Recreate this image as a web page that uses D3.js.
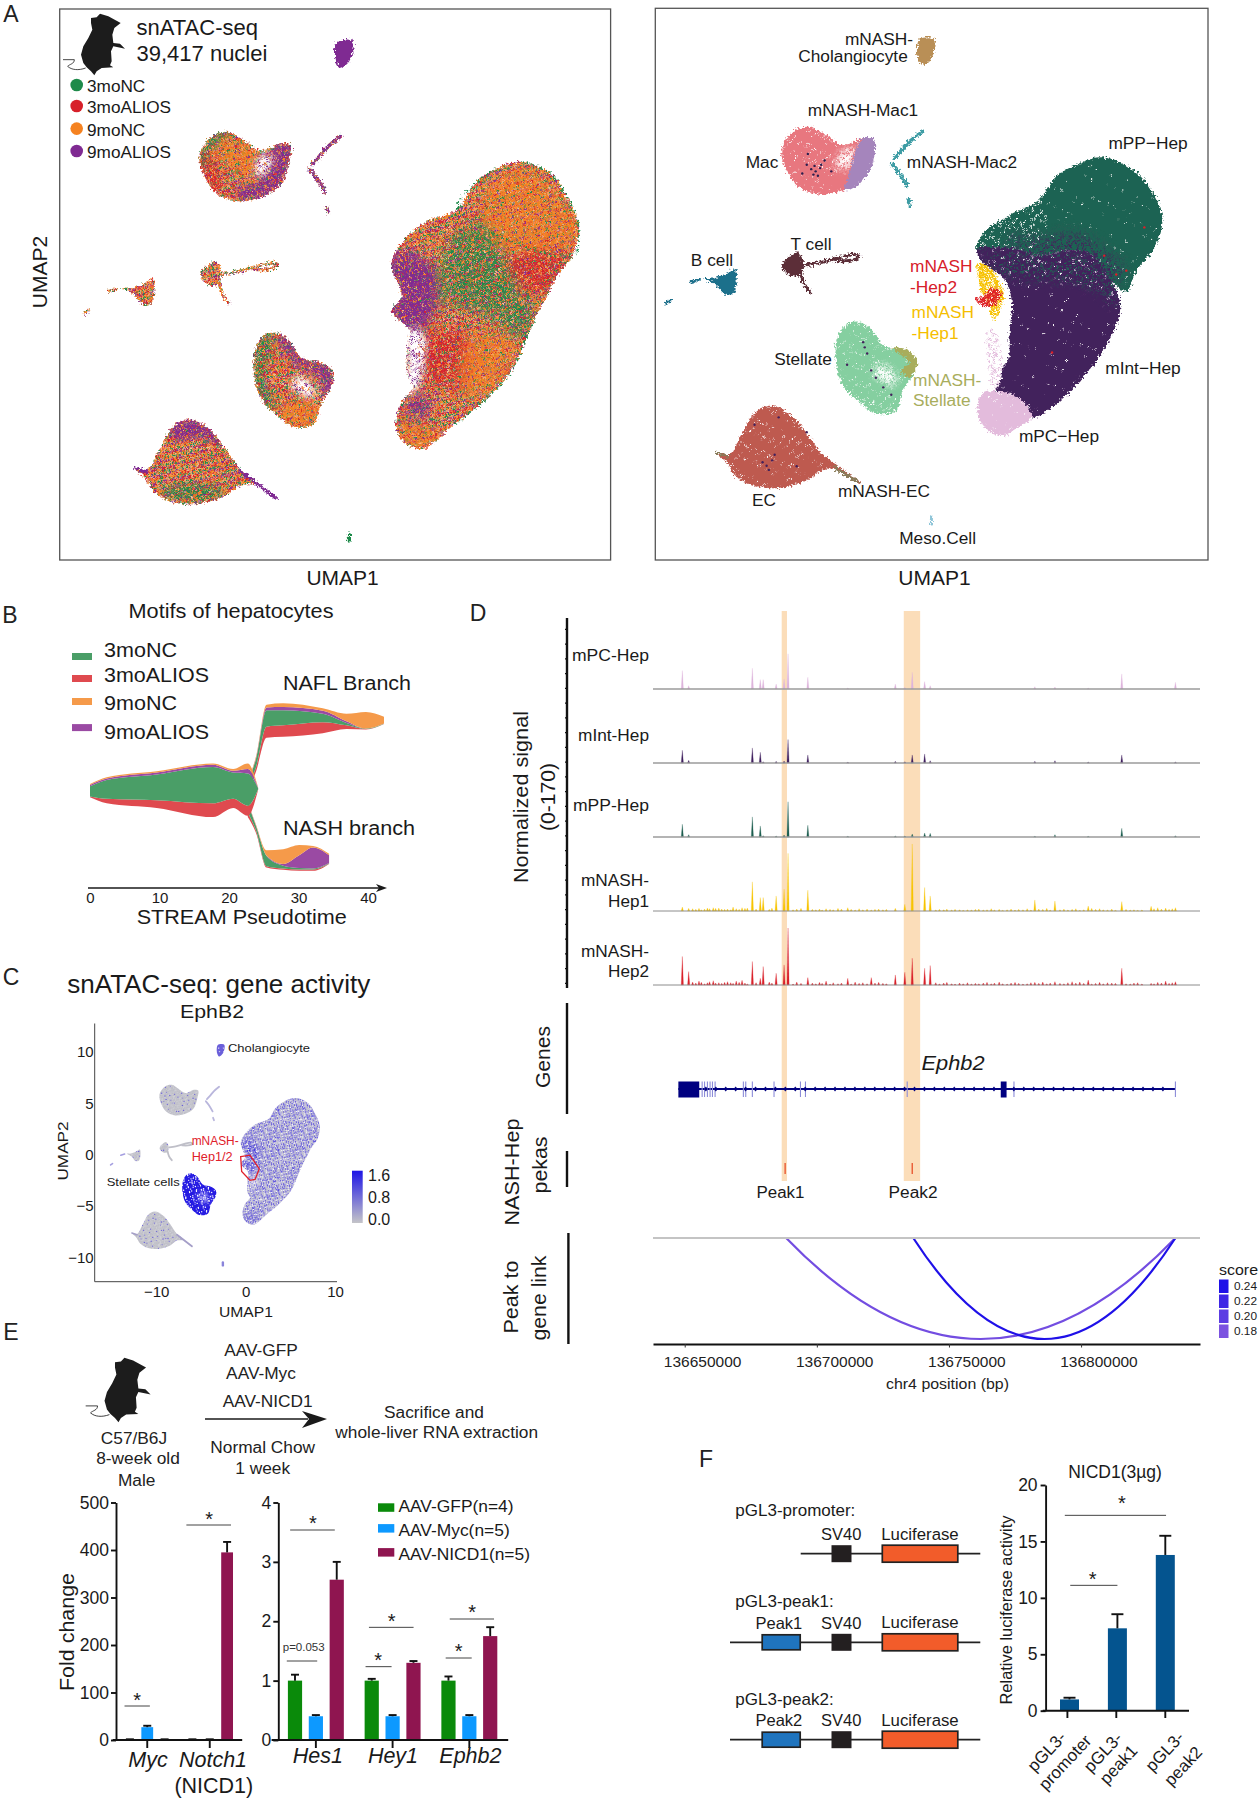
<!DOCTYPE html>
<html><head><meta charset="utf-8">
<style>html,body{margin:0;background:#fff}svg{display:block;font-family:"Liberation Sans",Arial,sans-serif}</style>
<script src="https://cdn.jsdelivr.net/npm/d3@7/dist/d3.min.js"></script></head><body>
<svg id="fig" width="1259" height="1800" viewBox="0 0 1259 1800"></svg>
<script>
/* ---------- UMAP cluster outlines, in UMAP units ---------- */
const hepOutline=[[5.84,5.3],[7.1,4.8],[7.82,3.79],[8.36,2.45],[8.09,1.11],[7.46,.27],[6.92,-.74],[6.38,-1.75],[6.02,-2.58],[5.3,-4.09],[4.22,-5.27],[2.77,-6.44],[1.33,-7.53],[.43,-7.11],[.16,-6.44],[.43,-5.44],[.97,-4.77],[.7,-4.26],[.7,-2.92],[.79,-2.25],[-.02,-1.33],[.43,-.74],[-.02,.77],[.52,1.78],[1.51,2.62],[2.95,3.2],[3.68,4.3],[4.76,5.05]];
const cholOutline=[[-2.45,10.67],[-1.77,10.7],[-1.73,10.34],[-1.95,9.75],[-2.31,9.5],[-2.52,9.83]];
const macOutline=[[-8.58,5.81],[-8.04,6.48],[-7.32,6.64],[-6.59,6.22],[-5.87,5.81],[-4.97,6.14],[-4.52,6.06],[-4.61,5.3],[-4.97,4.3],[-5.69,3.79],[-6.95,3.54],[-7.86,3.88],[-8.4,4.63],[-8.63,5.3]];
const tOutline=[[-8.58,.35],[-7.95,.86],[-7.68,.52],[-7.77,-.15],[-8.13,-.23],[-8.58,.1]];
const bOutline=[[-12.09,-.32],[-11.64,-.32],[-11.01,-.07],[-10.7,.1],[-10.77,-.99],[-11.19,-1.07],[-11.55,-.65]];
const stellateOutline=[[-5.69,-2.42],[-5.15,-2.33],[-4.61,-2.67],[-4.07,-3.42],[-3.17,-3.67],[-2.63,-4.09],[-2.72,-4.77],[-3.17,-5.44],[-3.53,-6.44],[-4.43,-6.53],[-5.15,-6.02],[-5.87,-5.27],[-6.18,-4.26],[-6.14,-3.09]];
const ecOutline=[[-9.12,-6.19],[-8.22,-6.61],[-7.5,-7.45],[-6.77,-8.46],[-6.05,-9.04],[-6.77,-9.13],[-7.5,-9.63],[-8.76,-9.97],[-9.84,-9.88],[-10.65,-9.46],[-11.1,-8.79],[-11.55,-8.37],[-11.01,-8.46],[-10.38,-7.45],[-9.84,-6.53]];
const mac2Strands=[[[-2.31,6.44],[-2.85,6],[-3.3,5.5],[-3.6,5.2]],[[-3.71,4.97],[-3.4,4.6],[-3,3.95]],[[-2.95,3.3],[-2.85,3.05]]];
const tStrands=[[[-7.6,.3],[-6.9,.4],[-6,.65],[-5.3,.78],[-5.15,.65],[-5.6,.5],[-6.2,.5]],[[-7.77,-.07],[-7.62,-.57],[-7.32,-.99]]];
const bStrands=[[[-12.72,-.49],[-12.32,-.37]],[[-13.8,-1.47],[-13.6,-1.33]]];
const ecTail=[[-6.77,-8.54],[-5.19,-9.71]];
const ecLeftTail=[[-11.55,-8.36],[-11,-8.53]];
const mesoStrand=[[-1.91,-11.34],[-1.91,-11.64]];
/* sample-enriched regions, left UMAP */
const hepPurpleDense=[[-.02,.77],[.43,1.28],[1.51,.77],[2.05,-.24],[1.69,-1.58],[.97,-2.25],[-.02,-1.33],[.43,-.74]];
const hepPurpleSparse=[[.61,-2.25],[1.33,-2.25],[1.42,-3.59],[1.06,-4.93],[.61,-4.93],[.7,-3.59]];
const hepGap=[[1.2,-2.6],[1.45,-2.6],[1.38,-3.6],[1.2,-4.2],[1.12,-3.5]];
const hepOrangeTop=[[4.04,3.79],[5.84,4.97],[8,3.12],[8.18,1.78],[6.38,1.11],[4.4,1.61]];
const hepRedRight=[[4.94,.77],[7.64,1.28],[7.46,.27],[6.92,-.57],[5.66,-.24]];
const hepGreen=[[2.59,1.78],[4.04,2.45],[5.84,-.74],[6.38,-1.41],[5.66,-2.58],[4.04,-1.41],[2.23,-.91]];
const hepRedLow=[[1.69,-2.25],[3.14,-2.25],[3.68,-3.59],[2.95,-4.93],[1.51,-4.26]];
const hepOrangeLow=[[3.5,-2.58],[5.48,-2.58],[5.12,-4.09],[3.68,-5.27],[3.14,-5.1]];
const hepOrangeTip=[[.16,-6.44],[1.15,-6.44],[2.23,-6.95],[1.33,-7.53],[.43,-7.11]];
const hepPurpleLow=[[.79,-5.27],[1.51,-4.93],[1.51,-6.11],[.61,-5.94]];
const stellPurple=[[-5.15,-2.33],[-4.61,-2.67],[-4.07,-3.42],[-3.17,-3.67],[-2.63,-4.09],[-2.72,-4.77],[-2.99,-5.27],[-3.35,-4.26],[-4.25,-3.84],[-4.88,-3.09]];
const stellGreen=[[-6.14,-3.09],[-5.69,-2.42],[-5.33,-2.58],[-5.78,-4.26],[-5.15,-5.77],[-5.51,-5.69],[-6.18,-4.26]];
const stellOrange=[[-4.97,-5.77],[-4.43,-6.53],[-3.53,-6.44],[-3.35,-5.77],[-4.25,-5.27]];
const stellHole=[[-4.3,-4.3],[-3.89,-4.35],[-3.45,-4.93],[-3.71,-5.3],[-4.16,-5.0],[-4.5,-4.8]];
const ecPurple=[[-9.84,-6.53],[-9.12,-6.19],[-8.22,-6.61],[-7.59,-7.28],[-8.58,-6.94],[-9.66,-7.02]];
const ecGreen=[[-10.38,-9.46],[-8.76,-9.88],[-7.5,-9.46],[-8.22,-9.13],[-9.66,-9.13]];
const macOrange=[[-7.86,6.31],[-6.77,6.22],[-5.96,5.39],[-6.41,4.63],[-7.32,5.13],[-7.86,5.47]];
const macRed=[[-8.58,5.47],[-8.04,5.47],[-7.5,4.13],[-6.95,3.62],[-7.86,3.96],[-8.4,4.63]];
const macPurple=[[-6.05,5.3],[-5.69,5.64],[-4.97,6.17],[-4.52,5.97],[-4.61,5.13],[-4.97,4.21],[-5.69,3.76],[-6.77,3.62],[-6.95,4.13],[-6.41,4.3],[-5.87,4.63]];
const macGap=[[-5.87,5.6],[-5.35,5.6],[-5.69,4.75],[-6.2,4.75]];
const macGreen=[[-8.63,5.3],[-8.04,6.48],[-7.32,6.64],[-7.5,6.31],[-8.22,5.81],[-8.4,5.13]];
/* cell-type regions, right UMAP */
const mPP=[[5.75,5.25],[7.1,4.7],[8,3.66],[8.45,2.45],[8.09,1.07],[7.28,.03],[6.83,-.92],[6.2,-.49],[5.3,.72],[4.4,.98],[2.95,.72],[1.69,1.07],[.61,.98],[.11,.98],[.43,1.76],[1.69,2.62],[2.95,3.31],[3.68,4.35],[4.94,5.05]];
const mPPsparse=[[.43,1.76],[1.69,2.62],[2.95,3.31],[3.2,1.5],[1.69,.9],[.3,.9]];
const mInt=[[.11,.98],[1.69,1.07],[2.95,.72],[4.4,.98],[5.3,.72],[6.2,-.49],[6.56,-1.7],[6.02,-3.26],[4.94,-4.82],[3.68,-6.11],[2.59,-6.72],[2.05,-5.85],[.97,-5.51],[.79,-4.99],[1.51,-4.12],[1.6,-2.74],[1.69,-1.36],[1.33,-.32],[.43,.37]];
const intInPP=[[1.5,1.6],[3,1.5],[4.6,1.7],[5.8,1],[6.7,.1],[6.2,-.6],[4.4,.6],[2.5,.6]];
const ppInInt=[[.4,.9],[2,.9],[4.4,.9],[5.6,.5],[6.5,-.6],[6.4,-1.6],[5,-.6],[3,-.4],[1.5,-.2]];
const mPC=[[.97,-5.51],[2.05,-5.85],[2.59,-6.72],[1.87,-7.24],[1.33,-7.58],[.52,-7.24],[.16,-6.54],[.34,-5.68]];
const mPCcolumn=[[.61,-2.74],[.97,-2.74],[1.24,-4.82],[.88,-5.51],[.7,-4.82]];
const nashHep1=[[.16,.37],[.7,.2],[1.33,-1],[1.15,-1.88],[.88,-2.22],[.61,-1.52],[.25,-.66]];
const nashHep2=[[.04,-1.27],[.43,-1.1],[.79,-.75],[1.24,-1],[.97,-1.52],[.43,-1.62]];
const nashMac1=[[-5.06,6.08],[-4.52,6.12],[-4.52,5.05],[-5.15,4.01],[-5.78,3.75],[-5.51,4.7]];
const nashStellate=[[-3.71,-3.52],[-2.99,-3.61],[-2.54,-4.21],[-2.9,-4.9],[-3.26,-4.56],[-2.9,-4.21],[-3.26,-3.86]];
const nashEC=[[-6.23,-9.05],[-5.24,-9.66]];
const macDots=[[-7.5,4.9],[-7.3,4.7],[-7.1,4.6],[-6.9,4.75],[-7.2,4.45],[-7,4.4],[-7.45,5.4],[-6.7,5.1],[-6.4,4.6],[-7.7,4.5],[-6.85,4.9],[-7.15,4.85]];
const stellDots=[[-4.97,-3.26],[-4.79,-3.78],[-4.61,-4.56],[-4.07,-5.34],[-3.71,-5.68],[-5.69,-4.3],[-4.9,-3.5],[-4.4,-4.9]];
const ecDots=[[-9.2,-9.14],[-9.48,-8.79],[-9.84,-7.06],[-8.76,-6.72],[-7.5,-7.41],[-8.94,-8.44],[-7.95,-8.97],[-9.3,-8.95],[-9.05,-8.7]];
const hepRedDots=[[5.84,.72],[6.38,-.15],[6.83,.03],[7.64,2.02],[3.5,-3.74]];
const nashHepOutlineC=[[-.55,-.19],[.49,-.05],[1.53,-1.39],[1.05,-2.42],[.49,-2.5],[-.44,-1.65]];
/* sample and cell-type legends */
const sampleNames=["3moNC","3moALIOS","9moNC","9moALIOS"];
const sampleColors=["#1E8A4A","#D7202A","#F58220","#7F2A92"];
/* Panel B: STREAM stream plot */
const streamColors=["#4A9E67","#DF4A4F","#F59A4A","#9A4AA3"];
const stemT=[0,2.4,9.6,17.7,20.6,22.7,24.2],stemBase=[208,195,185,165,185,168,225];
const stemRed=[2,10,17,30,20,22,1],stemGreen=[22,41,56,79,57,70,2],stemPurple=[3,3,4,5,4,10,.5],stemOrange=[2,3,3,3,4,12,.5];
const upT=[22.7,23.9,25.4,27.8,33.5,36.9,39.7,42.3],upBase=[220,265,338,340,348,357,356,368];
const upRed=[8,10,24,25,24,8,1,.5],upGreen=[12,18,36,33,18,5,1,.5],upPurple=[2,2,6,7,7,4,0,0],upOrange=[3,3,6,8,5,16,36,15];
const downT=[22.7,23.9,25.4,27.8,30.1,32.1,34.4],downBase=[165,130,55,50,48,48,63];
const downRed=[10,5,3,3,3,3,1],downGreen=[20,10,22,6,3,2,1],downPurple=[2,1,1,4,28,46,17],downOrange=[2,2,12,32,22,3,3];
/* Panel D: genome tracks (kb on chr4) */
const trackNames=[["mPC-Hep"],["mInt-Hep"],["mPP-Hep"],["mNASH-","Hep1"],["mNASH-","Hep2"]];
const trackColors=["#DDB4DC","#3F1F5F","#1D5E4F","#F7C400","#D9202A"];
const peakKb=[136649.1,136651.5,136675.6,136678.6,136679.7,136684.6,136687.6,136689.1,136696.6,136711.7,136729.7,136733.3,136736.1,136740.8,136742.9,136782.5,136790.1,136802.7,136815.4,136835.7];
const mPCpeaks=[55,10,62,28,28,15,30,105,35,3,15,5,50,22,10,7,6,3,45,20];
const mIntPeaks=[38,8,45,32,4,5,6,70,24,2,5,4,24,27,7,5,7,3,24,3];
const mPPpeaks=[38,7,60,33,4,3,6,105,35,2,3,3,9,12,11,2,7,2,26,4];
const hep1Peaks=[12,8,87,40,40,45,65,172,62,10,8,20,200,70,45,33,30,15,28,10];
const hep2Peaks=[85,40,70,20,55,35,60,170,22,20,30,38,80,50,58,8,10,15,50,10];
const noiseKb=[136653,136654.2,136655.4,136656.3,136657.5,136658.6,136659.4,136660.8,136661.7,136662.9,136664,136665.1,136666.2,136667.4,136668.3,136669.5,136670.6,136671.7,136672.8,136673.7,136677,136682,136683,136691,136692.4,136694,136698.3,136699.6,136701,136702,136703.5,136705,136706.2,136708,136709.3,136713,136714.5,136716,136717.4,136719,136720.6,136722,136723.4,136725,136726.3,136745,136746.4,136748,136749.2,136751,136752.3,136754,136755.4,136757,136758.5,136760,136761.3,136763,136764.4,136766,136767.2,136769,136770.3,136772,136773.5,136775,136776.4,136778,136779.6,136781,136784,136785.5,136787,136788.3,136792,136793.5,136795,136796.6,136798,136799.5,136801,136804,136805.5,136807,136808.4,136810,136811.6,136813,136817,136818.6,136820,136821.4,136823,136826.5,136827.6,136829,136830.4,136832,136833.3,136834.5];
const hep1Noise=[7,5,8,4,6,9,7,10,8,9,6,5,6,4,12,7,5,10,8,9,6,5,9,4,6,8,5,4,6,3,7,5,4,8,6,5,3,7,4,6,3,5,6,4,5,3,5,4,6,3,5,4,2,4,3,5,6,3,4,7,3,5,2,4,6,3,5,4,7,3,6,5,8,3,4,6,3,5,7,2,4,8,5,7,4,3,6,2,5,3,4,2,3,14,7,10,6,9,5,7];
const hep2Noise=[9,6,12,8,4,7,10,13,6,7,5,8,10,7,5,12,8,14,6,3,7,9,6,3,9,5,6,4,8,5,12,3,7,4,6,3,9,5,7,4,22,6,8,5,4,7,3,6,8,4,3,6,4,7,3,5,4,6,8,4,6,9,4,3,6,8,5,3,4,7,5,9,4,6,5,4,7,10,6,9,5,3,5,8,4,7,6,5,4,3,6,7,3,5,4,8,6,12,5,7];
const band1=[136686.7,136688.7],band2=[136732.9,136739.1];
const geneSpan=[136647.6,136835.7],bigExons=[[136647.6,136655.5],[136769.6,136771.8]];
const thinExons=[136656.6,136657.5,136658.6,136659.6,136660.5,136661.5,136672.2,136673.1,136675.6,136683.8,136693.8,136695.7,136734.2,136774.6,136835.7];
const nashPeakMarks=[136688.0,136736.1];
const links=[{from:136688.4,to:136835.7,score:.185},{from:136736.5,to:136835.7,score:.24}];
const scoreTicks=[.24,.22,.20,.18];
const genomeTicks=[136650000,136700000,136750000,136800000];
/* Panel E */
const treatNames=["AAV-GFP(n=4)","AAV-Myc(n=5)","AAV-NICD1(n=5)"];
const treatColors=["#0A8A0A","#0D99FF","#8F1550"];
const genesLeft=["Myc","Notch1"];
const leftVals=[[1,27,1],[1,1,395]],leftErr=[[.5,3,.5],[.5,.5,22]];
const genesRight=["Hes1","Hey1","Ephb2"];
const rightVals=[[1,.4,2.7],[1,.4,1.3],[1,.4,1.75]],rightErr=[[.1,.02,.3],[.03,.02,.03],[.07,.02,.15]];
/* Panel F */
const constructs=["pGL3-promoter","pGL3-peak1","pGL3-peak2"];
const lucVals=[1,7.3,13.8],lucErr=[.15,1.25,1.7];

const svg=d3.select("#fig"),defs=svg.append("defs");
const F='"Liberation Sans",Arial,sans-serif';
function T(p,x,y,s,o={}){
  const t=p.append("text").attr("x",x).attr("y",y).attr("dominant-baseline","central")
    .attr("text-anchor",o.a||"middle").attr("font-size",o.s||16).attr("fill",o.c||"#1a1a1a").text(s);
  if(o.i)t.attr("font-style","italic");
  if(o.r!=null)t.attr("transform",`rotate(${o.r} ${x} ${y})`);
  if(o.l)t.attr("textLength",o.l).attr("lengthAdjust","spacingAndGlyphs");
  return t;
}
/* rough-edged look for the point clouds */
const rough=defs.append("filter").attr("id","rough").attr("filterUnits","userSpaceOnUse").attr("x",0).attr("y",0).attr("width",1259).attr("height",1800);
rough.append("feTurbulence").attr("type","fractalNoise").attr("baseFrequency",.45).attr("numOctaves",2).attr("seed",4).attr("result","n");
rough.append("feDisplacementMap").attr("in","SourceGraphic").attr("in2","n").attr("scale",7).attr("xChannelSelector","R").attr("yChannelSelector","G");
const feather=defs.append("filter").attr("id","feather").attr("filterUnits","userSpaceOnUse").attr("x",0).attr("y",0).attr("width",1259).attr("height",1800);
feather.append("feGaussianBlur").attr("stdDeviation",6);
const featherS=defs.append("filter").attr("id","featherS").attr("filterUnits","userSpaceOnUse").attr("x",0).attr("y",0).attr("width",1259).attr("height",1800);
featherS.append("feGaussianBlur").attr("stdDeviation",3);
/* point-cloud textures: a tiled stipple, not per-cell data */
const fr=v=>v-Math.floor(v);
function speckle(id,cols,o={}){
  const tile=o.tile||64,n=o.n||1800,r=o.r||.95,jit=1.6*tile/Math.sqrt(n);
  const p=defs.append("pattern").attr("id",id).attr("patternUnits","userSpaceOnUse").attr("width",tile).attr("height",tile);
  if(o.bg)p.append("rect").attr("width",tile).attr("height",tile).attr("fill",o.bg);
  const total=d3.sum(cols,c=>c[1]);
  for(let i=1;i<=n;i++){
    const x=fr(i*.7548776662)*tile+(fr(i*.3819660)-.5)*jit,y=fr(i*.5698402910)*tile+(fr(i*.2360680)-.5)*jit,k=fr(i*.8191725)*total;
    let acc=0,c=cols[0][0];
    for(const q of cols){acc+=q[1];if(k<=acc){c=q[0];break;}}
    p.append("circle").attr("cx",x.toFixed(1)).attr("cy",y.toFixed(1)).attr("r",r).attr("fill",c);
  }
  return `url(#${id})`;
}
const [cG,cR,cO,cP]=sampleColors;
const pMix=speckle("mix",[[cO,.4],[cR,.25],[cG,.19],[cP,.16]],{n:1700,bg:"#f4c19c"});
const pO=speckle("ovO",[[cO,1]],{n:560,tile:50});
const pR=speckle("ovR",[[cR,1]],{n:480,tile:50});
const pG=speckle("ovG",[[cG,1]],{n:480,tile:50});
const pP=speckle("ovP",[[cP,1]],{n:680,tile:50});
const pPs=speckle("ovPs",[[cP,1]],{n:240,tile:50,bg:"#fff"});
const pGap=speckle("gap",[[cP,.55],[cO,.3],[cR,.15]],{n:300,tile:50,bg:"#fff"});
const pWhite=speckle("ovW",[["#fff",1]],{n:150,tile:60,r:.85});
function solid(id,c,n){return speckle(id,[["#fff",1]],{bg:c,n:n||30,tile:60,r:.65});}

const line=d3.line().curve(d3.curveCatmullRomClosed.alpha(.5));
const open=d3.line().curve(d3.curveCatmullRom);
const pathOf=(pts,x,y)=>line.x(d=>x(d[0])).y(d=>y(d[1]))(pts);
function blob(g,pts,x,y,fill){g.append("path").attr("d",pathOf(pts,x,y)).attr("fill",fill);}
let maskN=0;
/* soft-edged enrichment region, kept inside its parent cluster */
function overlay(g,parent,pts,x,y,fill,small){
  const id="m"+(++maskN);
  const m=defs.append("mask").attr("id",id).attr("maskUnits","userSpaceOnUse").attr("x",0).attr("y",0).attr("width",1259).attr("height",1800);
  m.append("path").attr("d",pathOf(pts,x,y)).attr("fill","#fff").attr("filter",small?"url(#featherS)":"url(#feather)");
  const c=defs.append("clipPath").attr("id","c"+id);
  c.append("path").attr("d",pathOf(parent,x,y));
  g.append("g").attr("clip-path",`url(#c${id})`).append("g").attr("mask",`url(#${id})`)
   .append("path").attr("d",pathOf(parent,x,y)).attr("fill",fill);
}
function strand(g,pts,x,y,stroke,w){g.append("path").attr("d",open.x(d=>x(d[0])).y(d=>y(d[1]))(pts)).attr("fill","none").attr("stroke",stroke).attr("stroke-width",w).attr("stroke-linecap","round");}
function frame(x0,y0,x1,y1){svg.append("rect").attr("x",x0).attr("y",y0).attr("width",x1-x0).attr("height",y1-y0).attr("fill","none").attr("stroke","#555").attr("stroke-width",1.3);}
function unitScale(at0,perUnit){return d3.scaleLinear().domain([0,1]).range([at0,at0+perUnit]);}

/* ---------- panel labels ---------- */
[["A",11,14],["B",10,615],["C",11,977],["D",478,613],["E",11,1332],["F",706,1459]].forEach(d=>T(svg,d[1],d[2],d[0],{s:23,c:"#222"}));

/* ---------- mouse glyph ---------- */
function mouse(x,y,k){
  const g=svg.append("g").attr("transform",`translate(${x},${y}) scale(${k})`);
  g.append("path").attr("fill","#1c1c1c").attr("d","M108,30 L125,28 L135,17 L160,25 L197,45 L178,60 L172,80 L175,105 L195,107 L210,122 L200,120 L175,115 L168,130 L170,160 L165,172 L175,178 L140,180 L125,190 L118,202 L108,190 L95,178 L85,165 L78,140 L85,115 L100,90 L112,65 L108,45 Z");
  g.append("path").attr("fill","none").attr("stroke","#1c1c1c").attr("stroke-width",2.4).attr("d","M92,180 C70,188 50,186 38,175 C44,168 58,168 58,155 L24,155");
}
mouse(55,8,1/3);
mouse(77.3,1351.8,.349);

/* ---------- A left ---------- */
frame(59.7,9,610.6,560);
const aLx=unitScale(392,22.3),aLy=unitScale(280.6,-22.4);
const gAL=svg.append("g").attr("filter","url(#rough)");
[hepOutline,macOutline,tOutline,bOutline,stellateOutline,ecOutline].forEach(o=>blob(gAL,o,aLx,aLy,pMix));
blob(gAL,cholOutline,aLx,aLy,cP);
[[hepPurpleDense,pP],[hepPurpleDense,pP],[hepOrangeTop,pO],[hepRedRight,pR],[hepGreen,pG],[hepRedLow,pR],[hepOrangeLow,pO],[hepOrangeTip,pO],[hepPurpleLow,pP]]
  .forEach(d=>overlay(gAL,hepOutline,d[0],aLx,aLy,d[1]));
overlay(gAL,hepOutline,hepPurpleSparse,aLx,aLy,pPs,1);
overlay(gAL,hepOutline,hepGap,aLx,aLy,pGap,1);
[[stellPurple,pP],[stellGreen,pG],[stellOrange,pO],[stellHole,pGap]].forEach(d=>overlay(gAL,stellateOutline,d[0],aLx,aLy,d[1],1));
[[ecPurple,pP],[ecPurple,pP],[ecGreen,pG]].forEach(d=>overlay(gAL,ecOutline,d[0],aLx,aLy,d[1],1));
[[macOrange,pO],[macRed,pR],[macPurple,pP],[macGap,pGap],[macGreen,pG]].forEach(d=>overlay(gAL,macOutline,d[0],aLx,aLy,d[1],1));
gAL.append("path").attr("d",open.x(d=>aLx(d[0])).y(d=>aLy(d[1]))(hepOutline.slice(0,5).concat(hepOutline.slice(25))))
  .attr("fill","none").attr("stroke",cG).attr("stroke-width",2).attr("stroke-dasharray","2 3");
gAL.append("path").attr("d",open.x(d=>aLx(d[0])).y(d=>aLy(d[1]))(hepOutline.slice(7,12)))
  .attr("fill","none").attr("stroke",cG).attr("stroke-width",2).attr("stroke-dasharray","2 4");
mac2Strands.forEach(s=>strand(gAL,s,aLx,aLy,pMix,3.6));
mac2Strands.forEach(s=>strand(gAL,s,aLx,aLy,pP,3.6));
tStrands.forEach(s=>strand(gAL,s,aLx,aLy,pMix,3));
bStrands.forEach(s=>strand(gAL,s,aLx,aLy,pMix,3));
strand(gAL,ecTail,aLx,aLy,cP,3.2);strand(gAL,ecLeftTail,aLx,aLy,cP,2.8);
strand(gAL,mesoStrand,aLx,aLy,cG,3.2);
T(svg,136.5,27,"snATAC-seq",{a:"start",s:22});
T(svg,136.5,53,"39,417 nuclei",{a:"start",s:22});
sampleNames.forEach((n,i)=>{const y=[85,106,128.6,151][i];
  svg.append("circle").attr("cx",76.7).attr("cy",y).attr("r",6.3).attr("fill",sampleColors[i]);
  T(svg,87,y+1,n,{a:"start",s:17.2});});
T(svg,39,272,"UMAP2",{r:-90,s:21});
T(svg,342.6,577,"UMAP1",{s:21});

/* ---------- A right ---------- */
frame(655.3,8.3,1208,560);
const aRx=unitScale(974,22.3),aRy=unitScale(271.3,-21.73);
const gAR=svg.append("g").attr("filter","url(#rough)");
const pPPs=solid("cPP","#1F6352",30),pInts=solid("cInt","#43215C",26);
blob(gAR,mPP,aRx,aRy,pPPs);
blob(gAR,mPPsparse,aRx,aRy,pWhite);
blob(gAR,mInt,aRx,aRy,pInts);
overlay(gAR,mPP,intInPP,aRx,aRy,speckle("ovInt",[["#43215C",1]],{n:360,tile:50}));
overlay(gAR,mInt,ppInInt,aRx,aRy,speckle("ovPPs",[["#1F6352",.85],["#fff",.15]],{n:220,tile:50}));
blob(gAR,mPCcolumn,aRx,aRy,speckle("cCol",[["#E3BBDC",1]],{n:280,tile:50,bg:"#fff"}));
blob(gAR,mPC,aRx,aRy,solid("cPC","#E3BBDC",50));
blob(gAR,nashHep1,aRx,aRy,speckle("cH1",[["#F6C100",1]],{n:480,tile:40,r:1.1}));
blob(gAR,nashHep2,aRx,aRy,speckle("cH2",[["#DE1F26",1]],{n:520,tile:40,r:1.1}));
blob(gAR,cholOutline,aRx,aRy,"#B98F57");
blob(gAR,macOutline,aRx,aRy,solid("cMac","#E8777F",110));
overlay(gAR,macOutline,macGap,aRx,aRy,speckle("cMg",[["#E8777F",1]],{n:330,tile:50,bg:"#fff"}),1);
blob(gAR,nashMac1,aRx,aRy,"#A585BC");
mac2Strands.forEach(s=>strand(gAR,s,aRx,aRy,"#3E9CA4",3.6));
blob(gAR,tOutline,aRx,aRy,"#5B2E38");
tStrands.forEach(s=>strand(gAR,s,aRx,aRy,"#5B2E38",3));
blob(gAR,bOutline,aRx,aRy,"#1F6F8B");
bStrands.forEach(s=>strand(gAR,s,aRx,aRy,"#1F6F8B",2.8));
blob(gAR,stellateOutline,aRx,aRy,solid("cSt","#85CFA0",120));
overlay(gAR,stellateOutline,stellHole,aRx,aRy,speckle("cSh",[["#85CFA0",1]],{n:330,tile:50,bg:"#fff"}),1);
blob(gAR,nashStellate,aRx,aRy,"#A8AD5C");
blob(gAR,ecOutline,aRx,aRy,solid("cEC","#BE5A50",90));
strand(gAR,ecTail,aRx,aRy,"#BE5A50",3);
strand(gAR,nashEC,aRx,aRy,"#8A7C5A",3.4);
strand(gAR,ecLeftTail,aRx,aRy,"#8A7C5A",2.4);
strand(gAR,mesoStrand,aRx,aRy,"#8FC5D8",3);
function dots(arr,c){svg.append("g").selectAll("circle").data(arr).join("circle").attr("cx",d=>aRx(d[0])).attr("cy",d=>aRy(d[1])).attr("r",1.2).attr("fill",c);}
dots(macDots,"#2A1F4F");dots(stellDots,"#43215C");dots(ecDots,"#43215C");dots(hepRedDots,"#DE1F26");
[["mNASH-",879,38.7],["Cholangiocyte",853,56.4],["mNASH-Mac1",863,110],["Mac",762,161.6],["mNASH-Mac2",962,161.6],["mPP−Hep",1148,143],["T cell",811,243.6],["B cell",712,260],["Stellate",803,359],["mInt−Hep",1143,368],["mPC−Hep",1059,436],["EC",764,500],["mNASH-EC",884,491],["Meso.Cell",937.6,537.6]]
  .forEach(d=>T(svg,d[1],d[2],d[0],{s:17.3}));
[["mNASH",910,266,"#D7202A"],["-Hep2",910,287,"#D7202A"],["mNASH",911.5,312,"#F5BE00"],["-Hep1",911.5,333,"#F5BE00"],["mNASH-",913,380,"#A8AD5C"],["Stellate",913,400,"#A8AD5C"]]
  .forEach(d=>T(svg,d[1],d[2],d[0],{a:"start",s:17.3,c:d[3]}));
T(svg,934.4,577,"UMAP1",{s:21});

/* ---------- B ---------- */
T(svg,231,610.6,"Motifs of hepatocytes",{s:20.5,l:205});
const bx=d3.scaleLinear().domain([0,40]).range([90,368]);
const by=d3.scaleLinear().domain([0,660]).range([892.8,590]);
const keysB=["red","green","purple","orange"],colB={green:streamColors[0],red:streamColors[1],orange:streamColors[2],purple:streamColors[3]};
function stream(t,base,r,g,p,o){
  const tbl=t.map((v,i)=>({t:v,base:base[i],red:r[i],green:g[i],purple:p[i],orange:o[i]}));
  const st=d3.stack().keys(keysB)(tbl);
  const ar=d3.area().curve(d3.curveMonotoneX).x(d=>bx(d.data.t)).y0(d=>by(d.data.base+d[0])).y1(d=>by(d.data.base+d[1]));
  svg.append("g").selectAll("path").data(st).join("path").attr("d",ar).attr("fill",s=>colB[s.key]);
}
stream(upT,upBase,upRed,upGreen,upPurple,upOrange);
stream(downT,downBase,downRed,downGreen,downPurple,downOrange);
stream(stemT,stemBase,stemRed,stemGreen,stemPurple,stemOrange);
const bLegY=[656.5,678.5,701.5,727.6],bTxtY=[649.6,675,703,732];
sampleNames.forEach((n,i)=>{svg.append("rect").attr("x",72).attr("y",bLegY[i]-3.5).attr("width",20).attr("height",7).attr("fill",streamColors[i]);
  T(svg,104,bTxtY[i],n,{a:"start",s:19.5,l:[73,105,73,105][i]});});
T(svg,283,682.7,"NAFL Branch",{a:"start",s:19.5,l:128});
T(svg,283,827.6,"NASH branch",{a:"start",s:19.5,l:132});
const axB=svg.append("g").attr("transform","translate(0,888)").call(d3.axisBottom(bx).tickValues([0,10,20,30,40]).tickSize(0).tickPadding(4));
axB.select(".domain").remove();
axB.selectAll("text").attr("font-family",F).attr("font-size",15).attr("fill","#1a1a1a");
svg.append("line").attr("x1",88).attr("x2",381).attr("y1",888).attr("y2",888).attr("stroke","#1a1a1a").attr("stroke-width",1.6);
svg.append("path").attr("d","M376,884 L387,888 L376,892 L379,888 Z").attr("fill","#1a1a1a");
T(svg,241.7,916.6,"STREAM Pseudotime",{s:19.5,l:210});

/* ---------- C ---------- */
T(svg,218.7,983.6,"snATAC-seq: gene activity",{s:25,l:303});
T(svg,212,1011,"EphB2",{s:19,l:64});
const cx=d3.scaleLinear().domain([-10,10]).range([156.1,335.1]);
const cy=d3.scaleLinear().domain([-10,10]).range([1257.3,1051.9]);
/* the activity embedding sits slightly differently from panel A's */
const cpx=unitScale(240.9,9.44),cpy=unitScale(1150.4,-9.88);
const gGrey="#BFBFC8",bluePt="#6A5FDA";
const gC=svg.append("g");
const pCgrey=speckle("cGrey",[[gGrey,.93],[bluePt,.07]],{n:900,tile:40,r:.7,bg:"#cfcfd6"});
const pCmid=speckle("cMid",[[bluePt,.42],[gGrey,.42],["#2B1FE6",.06],["#fff",.1]],{n:1000,tile:40,r:.62,bg:"#cbc8e2"});
const pCblue=speckle("cBlue",[["#1E14E0",.72],["#fff",.28]],{n:800,tile:40,r:.7,bg:"#2B1FE6"});
const pChol=speckle("cCh",[[bluePt,.8],["#fff",.2]],{n:500,tile:40,r:.7,bg:"#6A5FDA"});
[macOutline,ecOutline,tOutline,bOutline].forEach(o=>blob(gC,o,cpx,cpy,pCgrey));
blob(gC,hepOutline,cpx,cpy,pCmid);
overlay(gC,hepOutline,hepPurpleDense,cpx,cpy,speckle("cBl2",[[bluePt,.6],["#2B1FE6",.25],["#fff",.15]],{n:700,tile:40,r:.7}),1);
overlay(gC,hepOutline,hepOrangeTip,cpx,cpy,speckle("cBl3",[[bluePt,.9],["#fff",.1]],{n:500,tile:40,r:.7}),1);
overlay(gC,hepOutline,hepGap,cpx,cpy,"#fff",1);
blob(gC,stellateOutline,cpx,cpy,pCblue);
overlay(gC,stellateOutline,stellHole,cpx,cpy,speckle("cBh",[["#2B1FE6",1]],{n:330,tile:40,r:.7,bg:"#fff"}),1);
blob(gC,cholOutline,cpx,cpy,pChol);
mac2Strands.forEach(s=>strand(gC,s,cpx,cpy,"#B9B6DC",1.8));
tStrands.forEach(s=>strand(gC,s,cpx,cpy,gGrey,1.8));
bStrands.forEach(s=>strand(gC,s,cpx,cpy,"#A59FE0",1.6));
strand(gC,ecTail,cpx,cpy,"#A59FC8",1.8);strand(gC,ecLeftTail,cpx,cpy,"#A59FC8",1.5);strand(gC,mesoStrand,cpx,cpy,"#8A84DA",2.4);
gC.append("path").attr("d",d3.line().curve(d3.curveLinearClosed).x(d=>cx(d[0])).y(d=>cy(d[1]))(nashHepOutlineC)).attr("fill","none").attr("stroke","#E0202A").attr("stroke-width",1.3);
const cAxX=svg.append("g").attr("transform","translate(0,1281.7)").call(d3.axisBottom(cx).tickValues([-10,0,10]).tickFormat(d=>d<0?"−"+(-d):d).tickSize(0).tickPadding(5));
cAxX.select(".domain").attr("d","M94.7,0H337").attr("stroke","#444");
const cAxY=svg.append("g").attr("transform","translate(94.7,0)").call(d3.axisLeft(cy).tickValues([-10,-5,0,5,10]).tickFormat(d=>d<0?"−"+(-d):d).tickSize(0).tickPadding(1));
cAxY.select(".domain").attr("d","M0,1023.5V1281.7").attr("stroke","#444");
[cAxX,cAxY].forEach(a=>a.selectAll("text").attr("font-family",F).attr("font-size",15).attr("fill","#1a1a1a"));
T(svg,246,1311,"UMAP1",{s:15,l:54});
T(svg,62,1151,"UMAP2",{r:-90,s:15,l:59});
T(svg,228,1047.5,"Cholangiocyte",{a:"start",s:11.5,l:82});
T(svg,106.7,1181.7,"Stellate cells",{a:"start",s:11.5,l:73});
T(svg,191.7,1140.5,"mNASH-",{a:"start",s:12,c:"#E0202A",l:47});
T(svg,191.7,1157,"Hep1/2",{a:"start",s:12,c:"#E0202A",l:41});
const grad=defs.append("linearGradient").attr("id","actGrad").attr("x1",0).attr("x2",0).attr("y1",0).attr("y2",1);
grad.append("stop").attr("offset",0).attr("stop-color","#1E14E6");grad.append("stop").attr("offset",1).attr("stop-color","#C4C4C8");
svg.append("rect").attr("x",352).attr("y",1170.7).attr("width",10.7).attr("height",52.3).attr("fill","url(#actGrad)");
[["1.6",1175],["0.8",1197],["0.0",1219]].forEach(d=>T(svg,368,d[1],d[0],{a:"start",s:16}));

/* ---------- D ---------- */
const gx=d3.scaleLinear().domain([136638000,136845000]).range([653,1200]);
const kb=v=>gx(v*1000);
const bandTop=611,bandBot=1181;
[band1,band2].forEach(b=>svg.append("rect").attr("x",kb(b[0])).attr("width",kb(b[1])-kb(b[0])).attr("y",bandTop).attr("height",bandBot-bandTop).attr("fill","#FBDDB9"));
const baselines=[689,763,837,911,985];
const sigH=d3.scaleLinear().domain([0,170]).range([0,57]);
const tracks=[mPCpeaks,mIntPeaks,mPPpeaks,hep1Peaks,hep2Peaks];
tracks.forEach((h,i)=>{
  const g=svg.append("g"),col=trackColors[i];
  const sp=peakKb.map((k,j)=>({k,h:h[j]}));
  if(i===3)noiseKb.forEach((k,j)=>sp.push({k,h:hep1Noise[j]}));
  if(i===4)noiseKb.forEach((k,j)=>sp.push({k,h:hep2Noise[j]}));
  g.selectAll("path").data(sp).join("path")
   .attr("d",d=>`M${kb(d.k-.42)},${baselines[i]} L${kb(d.k)},${baselines[i]-sigH(d.h)} L${kb(d.k+.42)},${baselines[i]} Z`)
   .attr("fill",col).attr("stroke",col).attr("stroke-width",.25);
  svg.append("line").attr("x1",653).attr("x2",1200).attr("y1",baselines[i]).attr("y2",baselines[i]).attr("stroke",i<3?"#9b9b9b":"#8c8c8c").attr("stroke-width",i<3?1.5:1);
});
const trackLen=[[77],[71],[76],[68,41],[68,41]];
trackNames.forEach((n,i)=>{const ys=[[655],[735],[805],[880,900.5],[951,971]][i];
  n.forEach((s,j)=>T(svg,649,ys[j],s,{a:"end",s:16.5,l:trackLen[i][j]}));});
const ax=(x,y0,y1,w)=>svg.append("line").attr("x1",x).attr("x2",x).attr("y1",y0).attr("y2",y1).attr("stroke","#111").attr("stroke-width",w||2.4);
ax(567,618,988);
svg.append("g").selectAll("line").data(d3.range(0,25)).join("line").attr("x1",565).attr("x2",567).attr("y1",d=>629.3+d*14.75).attr("y2",d=>629.3+d*14.75).attr("stroke","#111").attr("stroke-width",1.2);
T(svg,520.7,797,"Normalized signal",{r:-90,s:20,l:172});
T(svg,548,797,"(0-170)",{r:-90,s:20,l:68});
ax(567,1003,1114);T(svg,543,1057,"Genes",{r:-90,s:20,l:62});
ax(567,1151,1187);T(svg,512,1172,"NASH-Hep",{r:-90,s:20,l:107});T(svg,540,1165,"pekas",{r:-90,s:20,l:57});
ax(568.4,1233,1344);T(svg,511,1297,"Peak to",{r:-90,s:20,l:73});T(svg,538.6,1298,"gene link",{r:-90,s:20,l:85});
const navy="#000080",geneY=1089;
svg.append("line").attr("x1",kb(geneSpan[0])).attr("x2",kb(geneSpan[1])).attr("y1",geneY).attr("y2",geneY).attr("stroke",navy).attr("stroke-width",1.8);
thinExons.forEach(k=>svg.append("line").attr("x1",kb(k)).attr("x2",kb(k)).attr("y1",1081.5).attr("y2",1097).attr("stroke","#8C8CD8").attr("stroke-width",1.1));
bigExons.forEach(b=>svg.append("rect").attr("x",kb(b[0])).attr("width",kb(b[1])-kb(b[0])).attr("y",1081.5).attr("height",16).attr("fill",navy));
svg.append("g").selectAll("path").data(d3.range(136658000,136834000,3760)).join("path")
  .attr("d",d=>`M${gx(d)-2},${geneY} L${gx(d)},${geneY-2.6} L${gx(d)+2},${geneY} L${gx(d)},${geneY+2.6} Z`).attr("fill",navy);
T(svg,921.6,1063,"Ephb2",{a:"start",s:20,i:1,l:63});
nashPeakMarks.forEach(k=>svg.append("line").attr("x1",kb(k)).attr("x2",kb(k)).attr("y1",1163).attr("y2",1174).attr("stroke","#E8502A").attr("stroke-width",1.3));
T(svg,780.5,1192,"Peak1",{s:16,l:48});T(svg,913,1192,"Peak2",{s:16,l:49});
const linkTop=1238,linkDepth=d3.scaleLinear().domain([0,1]).range([0,101]);
const scoreCol=d3.scaleLinear().domain([.18,.24]).range(["#7B52E0","#1F10E8"]);
links.forEach(l=>{const p=d3.path(),a=kb(l.from),b=kb(l.to);p.moveTo(a,linkTop);p.quadraticCurveTo((a+b)/2,linkTop+2*linkDepth(1),b,linkTop);
  svg.append("path").attr("d",p).attr("fill","none").attr("stroke",scoreCol(l.score)).attr("stroke-width",2.2);});
svg.append("line").attr("x1",653).attr("x2",1200).attr("y1",linkTop).attr("y2",linkTop).attr("stroke","#C4C4C4").attr("stroke-width",2.2);
const gAx=svg.append("g").attr("transform","translate(0,1344)").call(d3.axisBottom(gx).tickValues(genomeTicks).tickFormat(d3.format("d")).tickSize(3.5).tickPadding(9).tickSizeOuter(0));
gAx.select(".domain").attr("stroke","#111").attr("stroke-width",2.2);
gAx.selectAll(".tick line").attr("stroke","#333");
gAx.selectAll("text").attr("font-family",F).attr("font-size",15).attr("fill","#222").attr("dx",17.4).attr("textLength",77.5).attr("lengthAdjust","spacingAndGlyphs");
T(svg,947.5,1384,"chr4 position (bp)",{s:14.5,l:123,c:"#222"});
T(svg,1219,1270,"score",{a:"start",s:14,l:39});
scoreTicks.forEach((s,i)=>{const y=[1286,1301,1316,1331][i];
  svg.append("rect").attr("x",1219).attr("y",y-6.5).attr("width",9.5).attr("height",13.5).attr("fill",scoreCol(s));
  T(svg,1234,y,s.toFixed(2),{a:"start",s:11.5,l:23});});

/* ---------- E diagram ---------- */
const eS=17.3;
[["AAV-GFP",261,1350],["AAV-Myc",261,1373],["AAV-NICD1",267.7,1400.7],["Normal Chow",262.7,1447],["1 week",262.7,1467.7],["C57/B6J",134,1438],["8-week old",138,1458],["Male",136.7,1480],["Sacrifice and",434,1411.7],["whole-liver RNA extraction",436.7,1432]]
 .forEach(d=>T(svg,d[1],d[2],d[0],{s:eS,c:"#222"}));
svg.append("line").attr("x1",205).attr("x2",308).attr("y1",1419).attr("y2",1419).attr("stroke","#1a1a1a").attr("stroke-width",1.6);
svg.append("path").attr("d","M302,1411 L327,1419 L302,1428 L309,1419 Z").attr("fill","#1a1a1a");

/* ---------- E bars ---------- */
function barChart(o){
  const gs=d3.scaleBand().domain(o.genes).range(o.range).paddingInner(o.pi).paddingOuter(o.pi/2);
  const inner=d3.scaleBand().domain([0,1,2]).range([0,gs.bandwidth()]);
  const y=d3.scaleLinear().domain(o.dom).range([1740,1502.5]);
  const g=svg.append("g");
  o.genes.forEach((n,i)=>o.vals[i].forEach((v,j)=>{
    const xc=gs(n)+inner(j)+inner.bandwidth()/2,w=o.bw,c=treatColors[j];
    if(v>=o.dom[1]*.005)g.append("rect").attr("x",xc-w/2).attr("width",w).attr("y",y(v)).attr("height",1740-y(v)).attr("fill",c);
    const t=y(v+o.err[i][j]);
    g.append("line").attr("x1",xc).attr("x2",xc).attr("y1",y(v)).attr("y2",t).attr("stroke","#111").attr("stroke-width",1.9);
    g.append("line").attr("x1",xc-4).attr("x2",xc+4).attr("y1",t).attr("y2",t).attr("stroke","#111").attr("stroke-width",1.9);
  }));
  const ya=svg.append("g").attr("transform",`translate(${o.ax},0)`).call(d3.axisLeft(y).tickValues(o.ticks).tickFormat(d3.format("d")).tickSize(5).tickPadding(2).tickSizeOuter(0));
  const xa=svg.append("g").attr("transform","translate(0,1740)").call(d3.axisBottom(gs).tickSize(8).tickFormat("").tickSizeOuter(0));
  xa.select(".domain").attr("d",`M${o.x0},0H${o.x1}`);
  [ya,xa].forEach(a=>{a.selectAll(".domain,.tick line").attr("stroke","#111").attr("stroke-width",1.9);
    a.selectAll("text").attr("font-family",F).attr("font-size",17.5).attr("fill","#1a1a1a");});
  return {gs,y};
}
barChart({genes:genesLeft,vals:leftVals,err:leftErr,range:[116,241],pi:.167,dom:[0,500],ax:116,ticks:[0,100,200,300,400,500],bw:11.8,x0:112.7,x1:242.2});
barChart({genes:genesRight,vals:rightVals,err:rightErr,range:[277.5,507.7],pi:.184,dom:[0,4],ax:278.3,ticks:[0,1,2,3,4],bw:14.2,x0:271.6,x1:508.2});
function sig(x1,x2,y,star,sx,sy){svg.append("line").attr("x1",x1).attr("x2",x2).attr("y1",y).attr("y2",y).attr("stroke","#444").attr("stroke-width",1);
  if(star)T(svg,sx,sy,"*",{s:20});}
const zx=z=>40+z/2.958,zy=z=>1480+z/3;
[[250,325,678,287,659],[433,565,135,500,116],[740,872,150,807,129],[973,1105,442,1040,422],[963,1040,560,1000,539],[1212,1343,417,1278,397],[1200,1277,534,1238,514]]
  .forEach(d=>sig(zx(d[0]),zx(d[1]),zy(d[2]),1,zx(d[3]),zy(d[4])));
sig(zx(730),zx(820),zy(543),0);
T(svg,zx(780),zy(502),"p=0.053",{s:11.5,c:"#333"});
T(svg,67,1632,"Fold change",{r:-90,s:20,l:118});
[["Myc",148,1760],["Notch1",213,1760],["Hes1",317.9,1756],["Hey1",393,1756],["Ephb2",470.4,1756]].forEach(d=>T(svg,d[1],d[2],d[0],{s:21.5,i:1}));
T(svg,213.8,1786,"(NICD1)",{s:21.5});
treatNames.forEach((n,i)=>{const y=[1507.5,1528.3,1552.3][i];
  svg.append("rect").attr("x",378).attr("y",y-4.2).attr("width",16.3).attr("height",8.5).attr("fill",treatColors[i]);
  T(svg,398.4,[1506,1530,1554][i],n,{a:"start",s:17.4});});

/* ---------- F ---------- */
const fX=z=>690+z/2.756,fY=z=>1440+z/3;
function construct(title,titleY,lineY,x0,peak){
  T(svg,fX(125),titleY,title,{a:"start",s:17});
  svg.append("line").attr("x1",x0).attr("x2",980.3).attr("y1",lineY).attr("y2",lineY).attr("stroke","#222").attr("stroke-width",1.7);
  const labY=lineY-19.5;
  svg.append("rect").attr("x",831.5).attr("y",lineY-8.5).attr("width",20).attr("height",17).attr("fill","#231F20");
  svg.append("rect").attr("x",882.3).attr("y",lineY-8.5).attr("width",75.5).attr("height",17).attr("fill","#F25C2A").attr("stroke","#222").attr("stroke-width",1.7);
  T(svg,841.3,labY,"SV40",{s:16.5});T(svg,920,labY,"Luciferase",{s:16.8});
  if(peak){svg.append("rect").attr("x",762.2).attr("y",lineY-7.5).attr("width",38).attr("height",15).attr("fill","#1F74BE").attr("stroke","#222").attr("stroke-width",1.7);
    T(svg,778.9,labY,peak,{s:16.5});}
}
construct("pGL3-promoter:",1510.7,1553.7,800.7,null);
construct("pGL3-peak1:",1601.7,1642.3,730,"Peak1");
construct("pGL3-peak2:",1699,1739.7,730,"Peak2");
const fBar=d3.scalePoint().domain(constructs).range([1069.5,1165.3]);
const fy=d3.scaleLinear().domain([0,20]).range([1710.7,1485]);
constructs.forEach((c,i)=>{const x=fBar(c);
  svg.append("rect").attr("x",x-9.5).attr("width",19).attr("y",fy(lucVals[i])).attr("height",1710.7-fy(lucVals[i])).attr("fill","#04548F");
  const t=fy(lucVals[i]+lucErr[i]);
  svg.append("line").attr("x1",x).attr("x2",x).attr("y1",fy(lucVals[i])).attr("y2",t).attr("stroke","#111").attr("stroke-width",1.9);
  svg.append("line").attr("x1",x-6).attr("x2",x+6).attr("y1",t).attr("y2",t).attr("stroke","#111").attr("stroke-width",1.9);
  const tx=x-[2.1,1.1,0][i];
  svg.append("line").attr("x1",tx).attr("x2",tx).attr("y1",1710.7).attr("y2",1718).attr("stroke","#111").attr("stroke-width",1.9);
});
const fya=svg.append("g").attr("transform","translate(1045.6,0)").call(d3.axisLeft(fy).tickValues([0,5,10,15,20]).tickSize(5).tickPadding(3).tickSizeOuter(0));
fya.selectAll(".domain,.tick line").attr("stroke","#111").attr("stroke-width",1.9);
fya.selectAll("text").attr("font-family",F).attr("font-size",17.5).attr("fill","#1a1a1a");
svg.append("line").attr("x1",1042.7).attr("x2",1189).attr("y1",1710.7).attr("y2",1710.7).attr("stroke","#111").attr("stroke-width",1.9);
[[1048,1178,436,1110,417],[1033,1312,226,1190,188]].forEach(d=>{sig(fX(d[0]),fX(d[1]),fY(d[2]),1,fX(d[3]),fY(d[4]));});
T(svg,1115,1472,"NICD1(3µg)",{s:17.5});
T(svg,1006.4,1610,"Relative luciferase activity",{r:-90,s:16,l:189});
[["pGL3-",1015,870],["promoter",1085,880],["pGL3-",1170,872],["peak1",1212,910],["pGL3-",1340,870],["peak2",1390,915]].forEach(d=>{
  const x=fX(d[1]),y=fY(d[2]);
  svg.append("text").attr("transform",`translate(${x},${y}) rotate(-47)`).attr("text-anchor","end").attr("dominant-baseline","hanging").attr("font-size",17).attr("fill","#1a1a1a").text(d[0]);
});
</script></body></html>
